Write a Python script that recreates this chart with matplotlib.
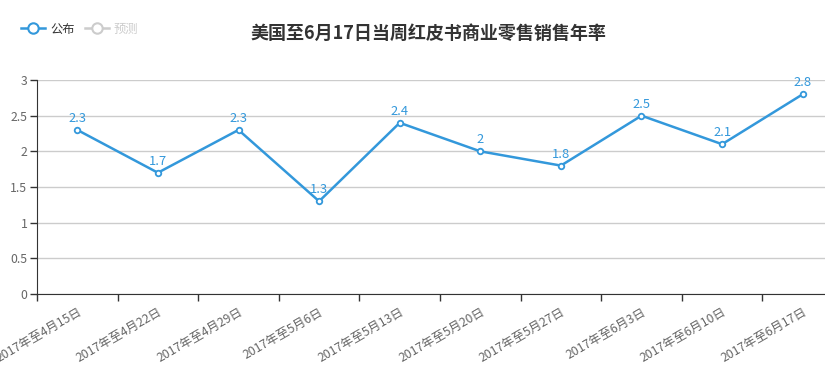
import matplotlib.pyplot as plt
from matplotlib.lines import Line2D

plt.rcParams['font.family'] = ['Noto Sans CJK SC', 'DejaVu Sans']

dates = ["2017年至4月15日", "2017年至4月22日", "2017年至4月29日", "2017年至5月6日",
         "2017年至5月13日", "2017年至5月20日", "2017年至5月27日", "2017年至6月3日",
         "2017年至6月10日", "2017年至6月17日"]
values = [2.3, 1.7, 2.3, 1.3, 2.4, 2, 1.8, 2.5, 2.1, 2.8]
yticks = [0, 0.5, 1, 1.5, 2, 2.5, 3]

blue = "#3398DB"
W, H = 825, 378

fig = plt.figure(figsize=(W / 100, H / 100), dpi=100)
# plot area: x 37..843 px (goes past the right edge), y 80..294 px
ax = fig.add_axes([37 / W, 1 - 294 / H, 806 / W, 214 / H])

x = list(range(len(values)))
ax.plot(x, values, color=blue, lw=1.8, marker='o', ms=4, mfc='white', mec=blue, mew=1.3,
        zorder=3, clip_on=False)
for xi, v in zip(x, values):
    ax.annotate(f"{v:g}", (xi, v), xytext=(0, 3.5), textcoords='offset points',
                ha='center', va='bottom', color=blue, fontsize=9.3)

ax.set_xlim(-0.5, len(values) - 0.5)
ax.set_ylim(0, 3)
ax.set_yticks(yticks)
ax.set_yticklabels([f"{t:g}" for t in yticks])
ax.grid(axis='y', color='#cccccc', lw=1)
ax.set_axisbelow(True)

# category boundary ticks
ax.set_xticks([i - 0.5 for i in range(len(values) + 1)])
ax.set_xticklabels([])
ax.tick_params(axis='x', length=5, color='#333333', width=1)
ax.tick_params(axis='y', length=5, color='#333333', width=1, labelcolor='#666666',
               labelsize=8.8, pad=2)

for i, d in enumerate(dates):
    ax.annotate(d, (i, 0), xytext=(0, -8), textcoords='offset points', ha='right', va='top',
                rotation=30, rotation_mode='anchor', color='#666666', fontsize=8.8,
                annotation_clip=False)

for s in ['top', 'right']:
    ax.spines[s].set_visible(False)
ax.spines['left'].set_color('#333333')
ax.spines['bottom'].set_color('#333333')

fig.text(428 / W, 1 - 33 / H, "美国至6月17日当周红皮书商业零售销售年率", ha='center', va='center',
         fontsize=13, fontweight='bold', color='#333333')

h1 = Line2D([], [], color=blue, lw=1.8, marker='o', ms=7.5, mfc='white', mec=blue, mew=1.5)
h2 = Line2D([], [], color='#cccccc', lw=1.8, marker='o', ms=7.5, mfc='white', mec='#cccccc', mew=1.5)
leg = fig.legend([h1, h2], ["公布", "预测"], loc='center left', bbox_to_anchor=(10 / W, 1 - 29 / H),
                 ncol=2, frameon=False, fontsize=8.8, handlelength=2.0, handletextpad=0.4,
                 columnspacing=0.8)
leg.get_texts()[0].set_color('#333333')
leg.get_texts()[1].set_color('#cccccc')

fig.savefig("out.png", dpi=100)
